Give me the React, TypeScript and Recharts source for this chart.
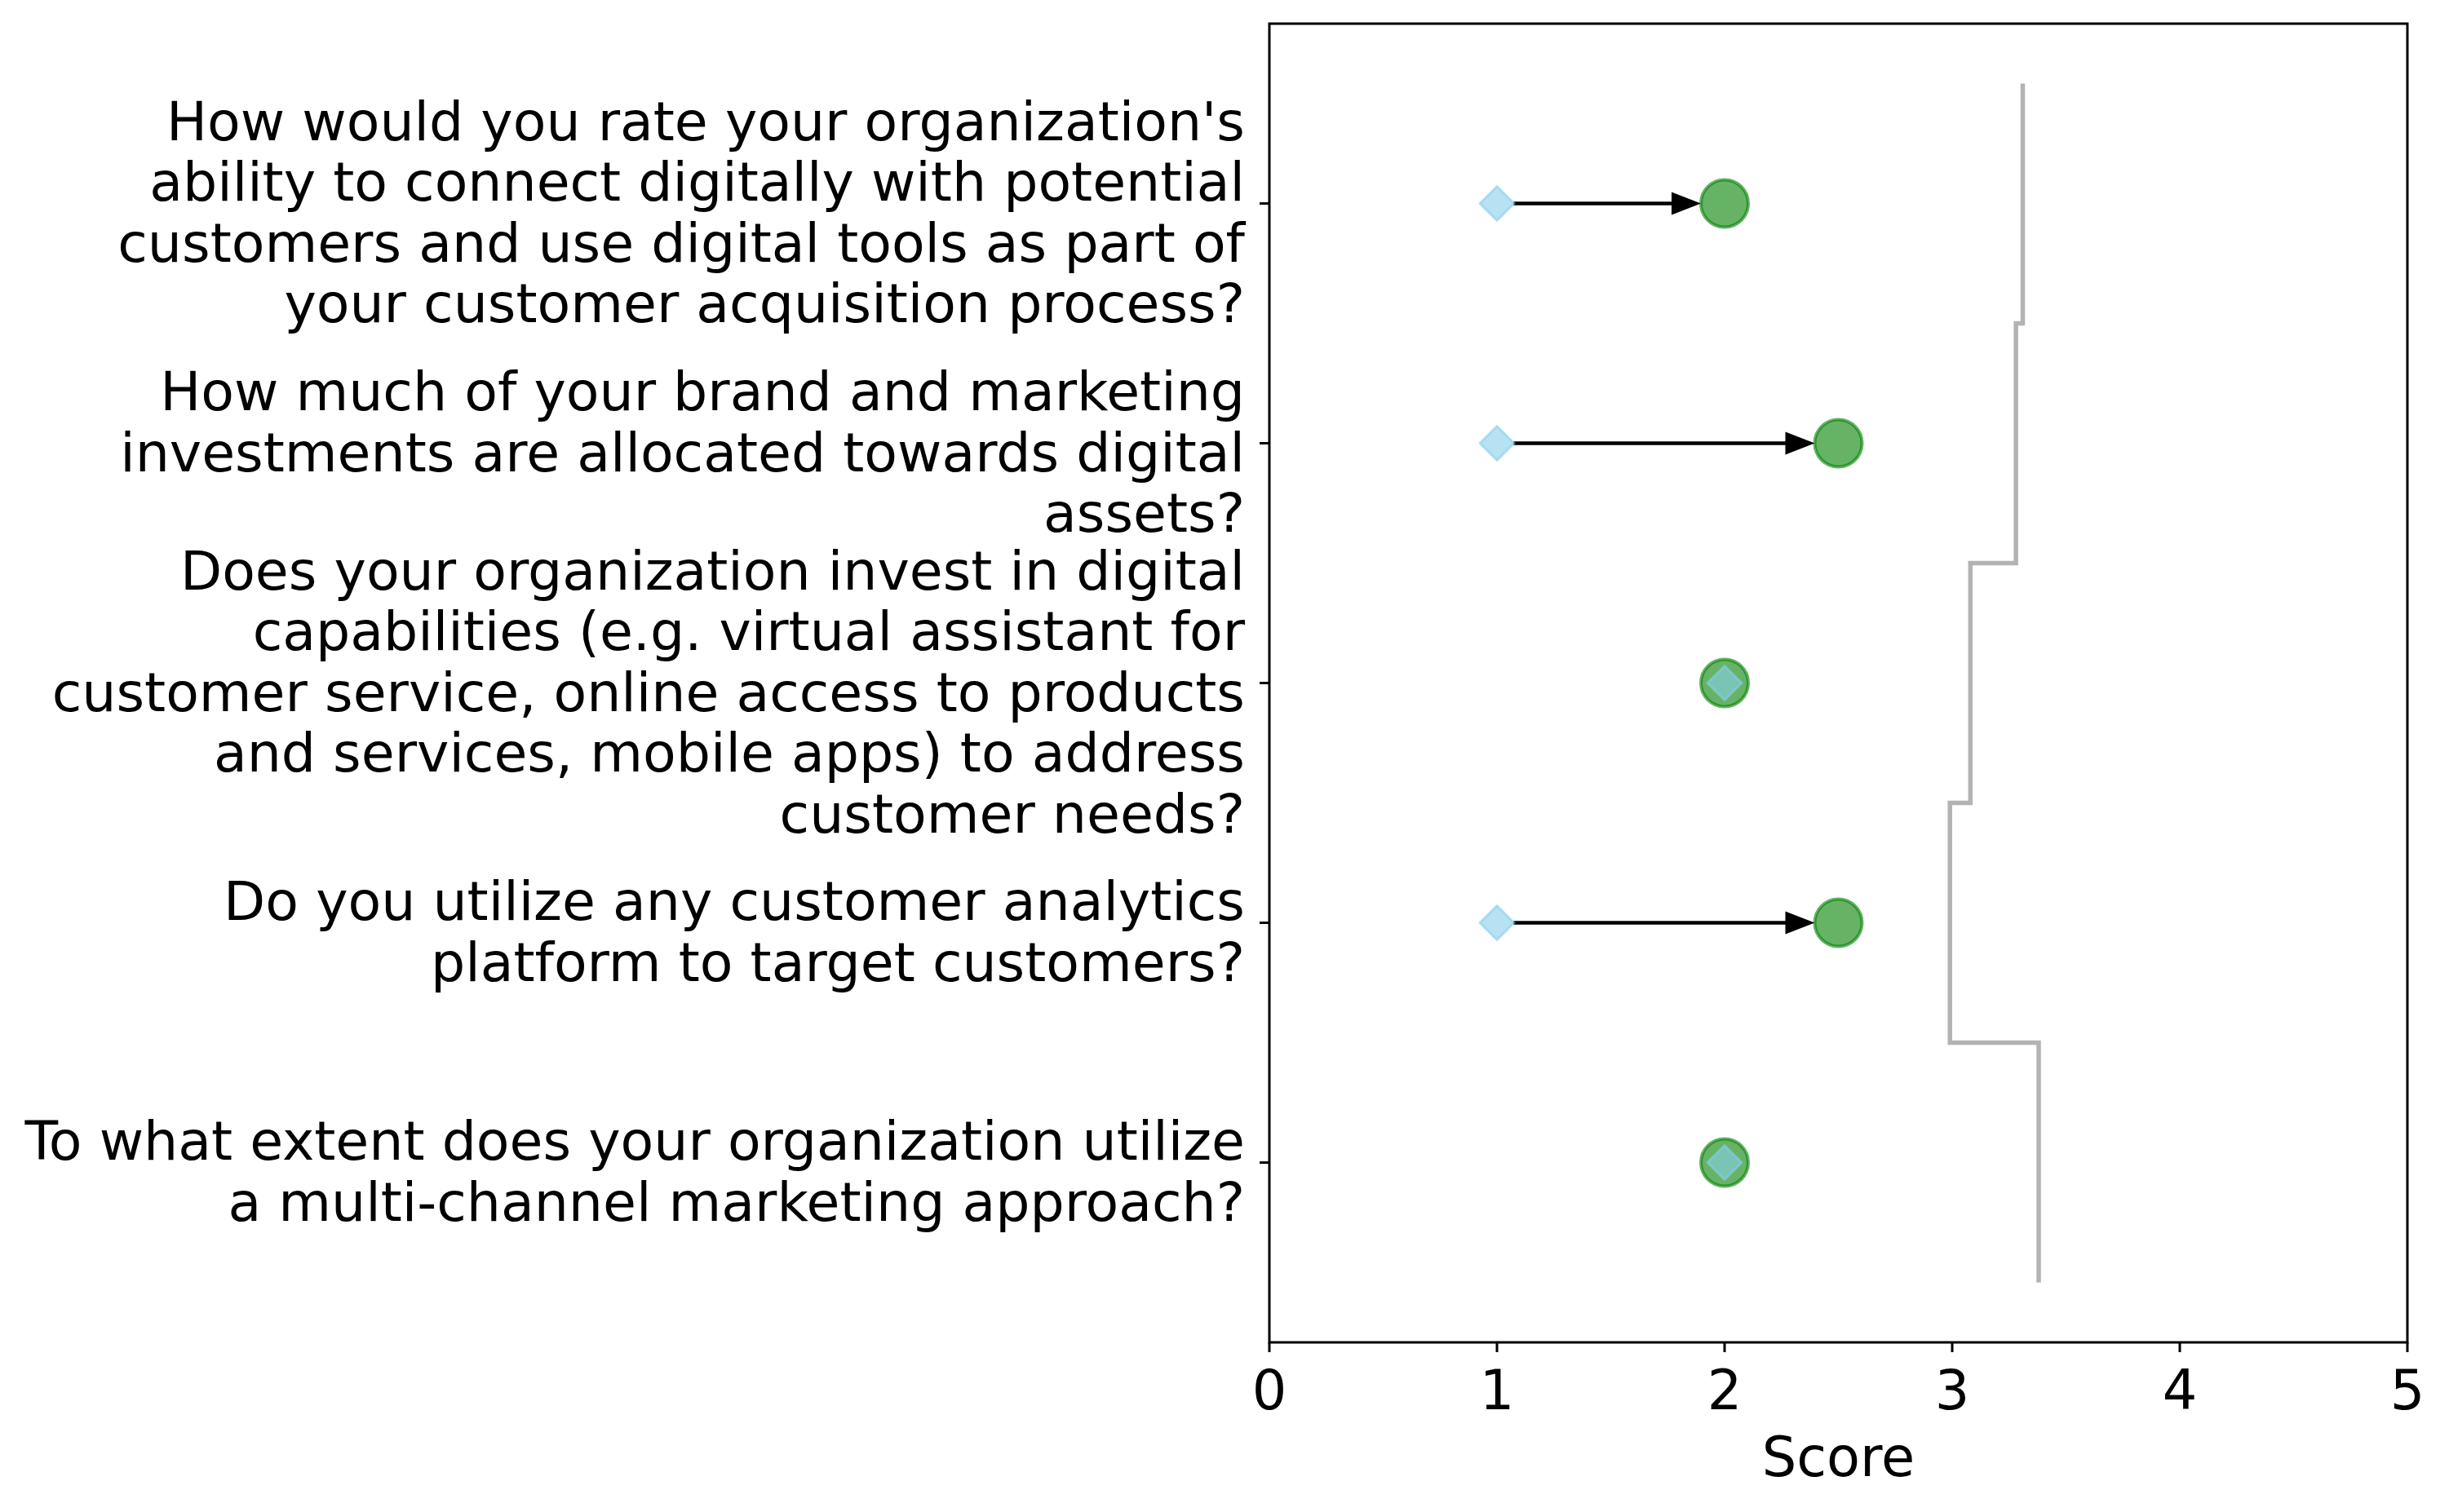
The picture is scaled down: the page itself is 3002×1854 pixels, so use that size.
import React from "react";
import {
	ScatterChart,
	Scatter,
	XAxis,
	YAxis,
	ReferenceArea,
} from "recharts";

const questions = [
	"How would you rate your organization's\nability to connect digitally with potential\ncustomers and use digital tools as part of\nyour customer acquisition process?",
	"How much of your brand and marketing\ninvestments are allocated towards digital\nassets?",
	"Does your organization invest in digital\ncapabilities (e.g. virtual assistant for\ncustomer service, online access to products\nand services, mobile apps) to address\ncustomer needs?",
	"Do you utilize any customer analytics\nplatform to target customers?",
	"To what extent does your organization utilize\na multi-channel marketing approach?",
];
const beforeScores = [1, 1, 2, 1, 2];
const afterScores = [2, 2.5, 2, 2.5, 2];
const benchmark = [3.31, 3.28, 3.08, 2.99, 3.38];
const xTicks = [0, 1, 2, 3, 4, 5];

const FONT = "DejaVu Sans";
const FS = 67;
const LABEL_FS = 66.5;
const LINE_H = 74.5;

// tables for the library, built from the arrays above
const beforeData = beforeScores.map((v, i) => ({ x: v, y: i }));
const afterData = afterScores.map((v, i) => ({ x: v, y: i }));
const stepData = benchmark.flatMap((v, i) => [
	{ x: v, y: i - 0.5 },
	{ x: v, y: i + 0.5 },
]);
const arrowData = beforeScores
	.map((b, i) => ({ b, a: afterScores[i], i }))
	.filter((d) => d.a !== d.b)
	.map((d) => [
		{ x: d.b, y: d.i },
		{ x: d.a, y: d.i },
	]);

const QuestionTick = (props: any) => {
	const { x, y, payload } = props;
	const lines = (questions[payload.value] || "").split("\n");
	const first = y - ((lines.length - 1) * LINE_H) / 2 + 34;
	return (
		<text
			x={x}
			y={first}
			textAnchor='end'
			fontSize={LABEL_FS}
			fontFamily={FONT}
			fill='#000'
		>
			{lines.map((l, k) => (
				<tspan key={k} x={x} y={first + k * LINE_H}>
					{l}
				</tspan>
			))}
		</text>
	);
};

const drawArrow = (p: any) => {
	const pts = p.points;
	if (!pts || pts.length < 2) return <g />;
	const x0 = pts[0].x + 20;
	const tip = pts[1].x - 29;
	const y = pts[0].y;
	const head = 36;
	return (
		<g>
			<line x1={x0} y1={y} x2={tip - head + 2} y2={y} stroke='#000' strokeWidth={4.5} />
			<polygon
				points={`${tip},${y} ${tip - head},${y - 14} ${tip - head},${y + 14}`}
				fill='#000'
			/>
		</g>
	);
};

const Nothing = () => <g />;

export default function App() {
	return (
		<div style={{ position: "absolute", left: 0, top: 0, fontFamily: FONT }}>
			<ScatterChart
				width={3002}
				height={1854}
				margin={{ top: 29, right: 51, bottom: 8, left: 0 }}
			>
				<XAxis
					type='number'
					dataKey='x'
					domain={[0, 5]}
					ticks={xTicks}
					interval={0}
					allowDataOverflow
					height={200}
					axisLine={false}
					tickSize={12}
					tickMargin={22}
					tickLine={{ stroke: "#000", strokeWidth: 3 }}
					tick={{ fontSize: FS, fill: "#000", fontFamily: FONT }}
					label={{
						value: "Score",
						position: "insideBottom",
						offset: 36,
						fontSize: FS,
						fill: "#000",
						fontFamily: FONT,
					}}
				/>
				<YAxis
					type='number'
					dataKey='y'
					domain={[-0.75, 4.75]}
					reversed
					ticks={[0, 1, 2, 3, 4]}
					interval={0}
					allowDataOverflow
					width={1556}
					axisLine={false}
					tickSize={12}
					tickMargin={18}
					tickLine={{ stroke: "#000", strokeWidth: 3 }}
					tick={<QuestionTick />}
				/>
				<Scatter
					data={stepData}
					fill='#808080'
					line={{ stroke: "#808080", strokeOpacity: 0.6, strokeWidth: 5.5 }}
					lineJointType='linear'
					shape={<Nothing />}
					isAnimationActive={false}
				/>
				<Scatter
					data={afterData}
					fill='#008000'
					isAnimationActive={false}
					shape={(p: any) => (
						<circle
							cx={p.cx}
							cy={p.cy}
							r={29}
							fill='#008000'
							fillOpacity={0.6}
							stroke='#008000'
							strokeOpacity={0.6}
							strokeWidth={4}
						/>
					)}
				/>
				{arrowData.map((d, k) => (
					<Scatter
						key={k}
						data={d}
						fill='#000'
						line={drawArrow}
						shape={<Nothing />}
						isAnimationActive={false}
					/>
				))}
				<Scatter
					data={beforeData}
					fill='#87ceeb'
					isAnimationActive={false}
					shape={(p: any) => (
						<polygon
							points={`${p.cx},${p.cy - 21} ${p.cx + 21},${p.cy} ${p.cx},${p.cy + 21} ${p.cx - 21},${p.cy}`}
							fill='#87ceeb'
							fillOpacity={0.6}
							stroke='#87ceeb'
							strokeOpacity={0.6}
							strokeWidth={3}
							strokeLinejoin='round'
						/>
					)}
				/>
				<ReferenceArea
					x1={0}
					x2={5}
					y1={-0.75}
					y2={4.75}
					fill='none'
					stroke='#000'
					strokeWidth={3}
				/>
			</ScatterChart>
		</div>
	);
}
